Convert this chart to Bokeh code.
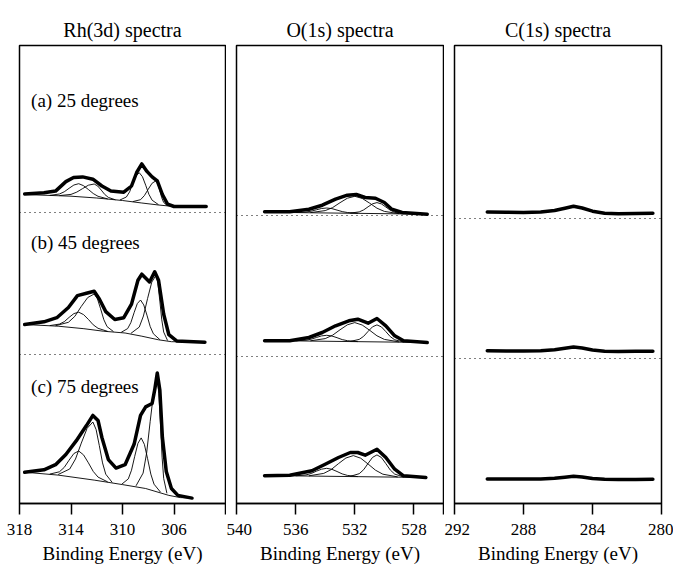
from bokeh.plotting import figure
from bokeh.layouts import row
from bokeh.models import Range1d, FixedTicker, Label, Span, Title
from bokeh.embed import file_html
from bokeh.resources import INLINE

# ---------------- data ----------------
# Rh(3d): envelopes (intensity above each spectrum's own baseline)
rh_a_x = [317.6, 316.1, 315.2, 314.4, 313.8, 313.1, 312.3, 311.6, 310.9, 309.9, 309.3, 308.9, 308.5, 308.1, 307.7, 307.3, 306.9, 306.5, 306.0, 303.5]
rh_a_y = [12.6, 13.7, 15.4, 24.9, 29.0, 29.6, 27.3, 20.5, 15.4, 14.3, 20.5, 34.0, 42.6, 35.1, 29.6, 25.6, 12.0, 2.4, 0.0, 0.0]
rh_b_x = [317.6, 316.1, 315.1, 314.2, 313.5, 312.8, 312.2, 311.8, 311.3, 310.6, 309.9, 309.3, 308.8, 308.5, 307.9, 307.5, 307.2, 306.8, 306.4, 305.8, 303.6]
rh_b_y = [17.7, 20.4, 24.5, 34.7, 46.6, 49.0, 51.0, 43.2, 30.6, 22.7, 24.5, 38.1, 61.9, 68.0, 60.2, 70.4, 61.9, 27.9, 7.5, 1.3, 0.0]
rh_c_x = [317.6, 316.1, 315.2, 314.4, 313.6, 312.8, 312.3, 311.9, 311.6, 311.1, 310.5, 309.8, 309.1, 308.6, 308.2, 307.7, 307.5, 307.3, 307.1, 306.9, 306.6, 306.2, 305.7, 304.6]
rh_c_y = [25.9, 28.3, 33.4, 43.6, 57.2, 72.5, 82.7, 77.6, 60.6, 38.5, 30.0, 33.4, 53.8, 82.7, 91.2, 94.6, 108.2, 125.2, 108.2, 60.6, 26.6, 9.6, 2.7, 0.0]

# Rh(3d): backgrounds
rh_a_bg_x = [317.6, 314.0, 312.0, 310.0, 308.5, 307.2, 306.4, 306.0, 303.5]
rh_a_bg_y = [12.0, 10.3, 8.5, 6.0, 3.5, 1.5, 0.5, 0.0, 0.0]
rh_b_bg_x = [317.6, 315.0, 313.0, 311.5, 309.8, 308.5, 307.2, 306.2, 303.6]
rh_b_bg_y = [17.7, 16.0, 13.5, 11.0, 9.2, 6.0, 2.4, 0.5, 0.0]
rh_c_bg_x = [317.6, 315.0, 312.2, 310.0, 308.2, 306.4, 305.5, 304.6]
rh_c_bg_y = [25.9, 23.0, 18.0, 13.5, 9.6, 2.7, 0.5, 0.0]

# Rh(3d): fitted components (drawn on the background)
rh_a_parts_x = [
    [315.65, 314.9, 314.525, 314.15, 313.775, 313.4, 313.025, 312.65, 312.275, 311.9, 311.15],
    [314.9, 314.0, 313.55, 313.1, 312.65, 312.2, 311.925, 311.65, 311.375, 311.1, 310.55],
    [310.2, 309.7, 309.45, 309.2, 308.95, 308.7, 308.45, 308.2, 307.95, 307.7, 307.2],
    [309.2, 308.6, 308.3, 308.0, 307.7, 307.4, 307.25, 307.1, 306.95, 306.8, 306.5],
]
rh_a_parts_y = [
    [11.1, 12.5, 14.7, 18.2, 21.5, 22.8, 20.8, 17.0, 13.0, 10.2, 7.6],
    [10.9, 12.1, 14.4, 17.9, 21.3, 22.5, 20.5, 16.4, 12.0, 9.1, 6.7],
    [6.5, 9.5, 14.6, 22.9, 30.5, 33.8, 29.8, 21.3, 12.2, 6.3, 1.8],
    [4.9, 6.8, 10.9, 17.3, 23.3, 25.7, 22.6, 15.8, 8.7, 4.0, 0.8],
]
rh_b_parts_x = [
    [315.65, 314.9, 314.525, 314.15, 313.775, 313.4, 313.025, 312.65, 312.275, 311.9, 311.15],
    [315.2, 314.2, 313.7, 313.2, 312.7, 312.2, 311.95, 311.7, 311.45, 311.2, 310.7],
    [310.1, 309.6, 309.35, 309.1, 308.85, 308.6, 308.35, 308.1, 307.85, 307.6, 307.1],
    [309.35, 308.7, 308.375, 308.05, 307.725, 307.4, 307.25, 307.1, 306.95, 306.8, 306.5],
]
rh_b_parts_y = [
    [16.6, 18.1, 20.5, 24.8, 28.6, 30.0, 27.6, 22.8, 17.4, 13.9, 10.8],
    [16.5, 19.9, 25.9, 35.8, 44.7, 48.2, 43.5, 33.4, 22.5, 15.6, 10.6],
    [9.9, 13.6, 19.6, 29.5, 38.6, 42.2, 37.3, 27.0, 15.7, 8.4, 2.6],
    [8.8, 15.1, 26.2, 43.8, 60.1, 66.9, 58.8, 41.2, 22.4, 10.1, 1.7],
]
rh_c_parts_x = [
    [315.65, 314.9, 314.525, 314.15, 313.775, 313.4, 313.025, 312.65, 312.275, 311.9, 311.15],
    [315.0, 314.1, 313.65, 313.2, 312.75, 312.3, 312.05, 311.8, 311.55, 311.3, 310.8],
    [310.05, 309.55, 309.3, 309.05, 308.8, 308.55, 308.3, 308.05, 307.8, 307.55, 307.05],
    [308.95, 308.4, 308.125, 307.85, 307.575, 307.3, 307.175, 307.05, 306.925, 306.8, 306.55],
]
rh_c_parts_y = [
    [24.0, 26.3, 30.7, 37.9, 44.6, 47.1, 43.2, 35.3, 26.7, 21.0, 16.2],
    [23.6, 29.1, 39.1, 55.0, 69.8, 76.1, 68.6, 52.5, 35.2, 23.9, 15.7],
    [14.0, 19.2, 27.9, 41.8, 54.8, 60.2, 53.7, 39.4, 24.0, 13.9, 6.0],
    [12.3, 25.0, 45.2, 76.7, 106.1, 118.5, 104.7, 73.9, 41.0, 19.6, 4.8],
]

# O(1s): envelopes
o_a_x = [538.1, 536.4, 535.1, 534.2, 533.3, 532.5, 531.9, 531.3, 530.6, 530.0, 529.5, 528.8, 527.1]
o_a_y = [2.4, 2.4, 5.0, 9.0, 15.0, 19.0, 19.7, 16.7, 16.0, 11.7, 5.0, 1.7, 0.0]
o_b_x = [538.1, 536.4, 535.1, 534.2, 533.3, 532.4, 531.8, 531.1, 530.5, 529.9, 529.3, 528.7, 527.1]
o_b_y = [1.7, 1.7, 5.0, 10.0, 16.7, 21.7, 23.3, 19.3, 24.0, 16.7, 6.7, 1.7, 0.0]
o_c_x = [538.1, 536.4, 534.9, 534.0, 533.1, 532.3, 531.8, 531.3, 530.5, 529.9, 529.3, 528.7, 527.2]
o_c_y = [1.7, 2.3, 6.7, 13.3, 20.0, 25.0, 25.0, 22.3, 28.3, 20.0, 8.3, 1.7, 0.0]
o_bg_x = [538.1, 527.1]
o_bg_y = [2.0, 0.0]

# O(1s): fitted components
o_a_parts_x = [
    [535.0, 534.0, 533.5, 533.0, 532.5, 532.0, 531.5, 531.0, 530.5, 530.0, 529.0],
    [532.3, 531.7, 531.4, 531.1, 530.8, 530.5, 530.2, 529.9, 529.6, 529.3, 528.7],
    [536.0, 535.3, 534.95, 534.6, 534.25, 533.9, 533.55, 533.2, 532.85, 532.5, 531.8],
]
o_a_parts_y = [
    [1.6, 3.6, 6.6, 11.5, 16.0, 17.9, 15.8, 11.1, 6.0, 2.8, 0.5],
    [1.1, 2.3, 4.3, 7.4, 10.4, 11.6, 10.3, 7.2, 4.0, 1.9, 0.4],
    [1.7, 2.2, 3.0, 4.4, 5.7, 6.2, 5.6, 4.1, 2.6, 1.7, 0.9],
]
o_b_parts_x = o_a_parts_x
o_b_parts_y = [
    [1.7, 3.9, 7.3, 12.7, 17.7, 19.9, 17.5, 12.3, 6.7, 3.1, 0.6],
    [1.1, 3.1, 6.2, 11.1, 15.7, 17.6, 15.6, 10.9, 5.9, 2.7, 0.5],
    [1.7, 2.3, 3.3, 5.0, 6.6, 7.2, 6.5, 4.8, 2.9, 1.8, 0.9],
]
o_c_parts_x = [
    [535.1, 534.1, 533.6, 533.1, 532.6, 532.1, 531.6, 531.1, 530.6, 530.1, 529.1],
    [532.3, 531.7, 531.4, 531.1, 530.8, 530.5, 530.2, 529.9, 529.6, 529.3, 528.7],
    [536.0, 535.3, 534.95, 534.6, 534.25, 533.9, 533.55, 533.2, 532.85, 532.5, 531.8],
]
o_c_parts_y = [
    [1.7, 4.1, 7.9, 13.9, 19.5, 21.9, 19.3, 13.5, 7.3, 3.3, 0.6],
    [1.2, 3.8, 7.8, 14.1, 20.1, 22.6, 20.0, 13.9, 7.5, 3.4, 0.5],
    [1.7, 2.6, 4.0, 6.3, 8.3, 9.2, 8.2, 6.0, 3.6, 2.1, 0.9],
]

# C(1s): envelopes
c_x = [290.1, 289.0, 288.0, 287.0, 286.2, 285.6, 285.1, 284.6, 284.0, 283.3, 282.5, 281.5, 280.5]
c_a_y = [2.0, 1.8, 1.6, 2.0, 3.5, 5.8, 7.8, 6.0, 2.8, 0.8, 0.2, 0.5, 0.8]
c_b_y = [0.7, 0.6, 0.5, 0.8, 1.8, 3.3, 4.5, 3.5, 1.5, 0.3, 0.0, 0.2, 0.3]
c_c_y = [0.6, 0.5, 0.4, 0.6, 1.2, 2.3, 3.2, 2.5, 1.0, 0.2, 0.0, 0.1, 0.2]

# axes / labels
titles = ["Rh(3d) spectra", "O(1s) spectra", "C(1s) spectra"]
rh_ticks = [318, 314, 310, 306, 302]
o_ticks = [540, 536, 532, 528, 526]
c_ticks = [292, 288, 284, 280]
angle_labels = ["(a) 25 degrees", "(b) 45 degrees", "(c) 75 degrees"]
x_label = "Binding Energy (eV)"

# ---------------- drawing ----------------
FONT = "Liberation Serif"
FRAME_H = 458


def make_panel(title, xr, ticks, hidden, frame_w, left, right):
    p = figure(width=left + frame_w + right, height=572,
               x_range=Range1d(*xr), y_range=Range1d(0, FRAME_H),
               output_backend="svg", toolbar_location=None, y_axis_location=None,
               min_border_left=left, min_border_right=right,
               min_border_top=45, min_border_bottom=69)
    p.xgrid.visible = False
    p.ygrid.visible = False
    p.background_fill_color = "white"
    p.border_fill_color = "white"
    p.outline_line_color = "black"
    p.outline_line_width = 1.5
    p.title.text = title
    p.title.align = "center"
    p.title.text_font = FONT
    p.title.text_font_size = "20px"
    p.title.text_font_style = "normal"
    p.title.text_color = "black"
    ax = p.xaxis[0]
    ax.ticker = FixedTicker(ticks=ticks)
    ax.major_label_overrides = {t: "" for t in hidden}
    ax.axis_line_width = 1.5
    ax.major_tick_line_width = 1.5
    ax.major_tick_in = 0
    ax.major_tick_out = 11
    ax.minor_tick_line_color = None
    ax.major_label_text_font = FONT
    ax.major_label_text_font_size = "17px"
    ax.major_label_text_color = "black"
    ax.major_label_standoff = 9
    p.add_layout(Title(text=x_label, align="center", text_font=FONT,
                       text_font_size="19px", text_font_style="normal",
                       text_color="black", standoff=6), "below")
    return p


def draw(p, offset, ex, ey, bx, by, parts_x, parts_y):
    if parts_x:
        p.multi_line(xs=parts_x, ys=[[v + offset for v in ys] for ys in parts_y],
                     line_color="black", line_width=0.9)
    if bx:
        p.line(bx, [v + offset for v in by], line_color="black", line_width=0.9)
    p.line(ex, [v + offset for v in ey], line_color="black", line_width=3.5,
           line_join="round", line_cap="round")


def separators(p, levels):
    for lv in levels:
        p.add_layout(Span(location=lv, dimension="width", line_color="black",
                          line_width=1.2, line_dash="1 4"))


p1 = make_panel(titles[0], (318, 302), rh_ticks, [302], 206, 19, 1)
separators(p1, [291, 149])
draw(p1, 297, rh_a_x, rh_a_y, rh_a_bg_x, rh_a_bg_y, rh_a_parts_x, rh_a_parts_y)
draw(p1, 161.3, rh_b_x, rh_b_y, rh_b_bg_x, rh_b_bg_y, rh_b_parts_x, rh_b_parts_y)
draw(p1, 5.4, rh_c_x, rh_c_y, rh_c_bg_x, rh_c_bg_y, rh_c_parts_x, rh_c_parts_y)
for txt, yy in zip(angle_labels, [403, 261, 117]):
    p1.add_layout(Label(x=317.1, y=yy, text=txt, text_font=FONT, text_font_size="19px",
                        text_baseline="middle", text_color="black"))

p2 = make_panel(titles[1], (540, 526), o_ticks, [526], 207, 10, 1)
separators(p2, [288, 147])
draw(p2, 289.3, o_a_x, o_a_y, o_bg_x, o_bg_y, o_a_parts_x, o_a_parts_y)
draw(p2, 161, o_b_x, o_b_y, o_bg_x, o_bg_y, o_b_parts_x, o_b_parts_y)
draw(p2, 26, o_c_x, o_c_y, o_bg_x, o_bg_y, o_c_parts_x, o_c_parts_y)

p3 = make_panel(titles[2], (292, 280), c_ticks, [], 207, 10, 12)
separators(p3, [285, 145])
draw(p3, 289.5, c_x, c_a_y, None, None, None, None)
draw(p3, 152, c_x, c_b_y, None, None, None, None)
draw(p3, 24, c_x, c_c_y, None, None, None, None)

layout = row(p1, p2, p3)
open("out.html", "w").write(file_html(layout, INLINE))
